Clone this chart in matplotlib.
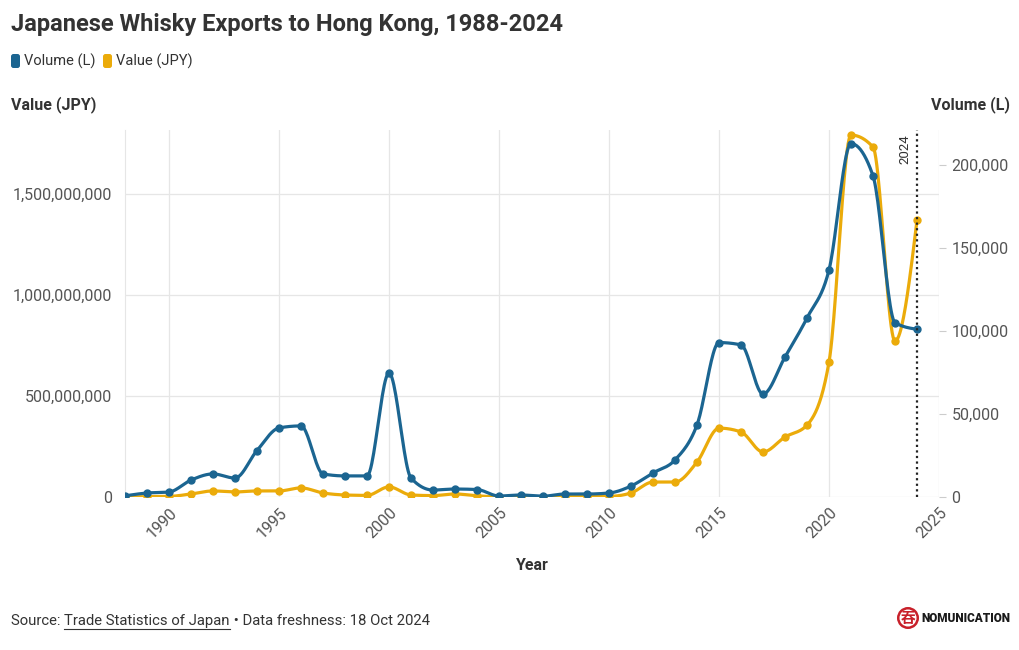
import numpy as np
import matplotlib
matplotlib.use("Agg")
import matplotlib.pyplot as plt
from matplotlib.patches import FancyBboxPatch
from matplotlib.lines import Line2D
from matplotlib.transforms import IdentityTransform
from matplotlib.ticker import FuncFormatter

plt.rcParams['font.family'] = ['Roboto', 'DejaVu Sans']

years = list(range(1988, 2025))
volume_l = [700, 2400, 3000, 10200, 13900, 11400, 28000, 41600, 42800, 13900,
            12700, 12700, 74700, 11400, 4200, 4800, 4500, 600, 1200, 500,
            1800, 1800, 2400, 6600, 14500, 22300, 43400, 93000, 91600, 62000,
            84300, 107800, 136700, 212800, 193400, 105000, 101000]
value_jpy = [0, 2e6, 3e6, 15e6, 30e6, 25e6, 30e6, 30e6, 45e6, 20e6,
             10e6, 8e6, 50e6, 10e6, 7e6, 15e6, 6e6, 0, 2e6, 1e6,
             2e6, 2e6, 3e6, 20e6, 74e6, 74e6, 173e6, 341e6, 322e6, 223e6,
             297e6, 356e6, 668e6, 1792e6, 1733e6, 772e6, 1371e6]

BLUE = '#1b6591'
YELLOW = '#ebab0a'
TXT = '#333333'
TICK = '#555555'
GRID = '#e6e6e6'


def monotone(x, y, n=24):
    # monotone cubic (like d3 curveMonotoneX)
    x = np.asarray(x, float)
    y = np.asarray(y, float)
    h = np.diff(x)
    s = np.diff(y) / h
    m = np.zeros_like(y)
    for i in range(1, len(y) - 1):
        p = (s[i - 1] * h[i] + s[i] * h[i - 1]) / (h[i - 1] + h[i])
        m[i] = (np.sign(s[i - 1]) + np.sign(s[i])) * min(abs(s[i - 1]), abs(s[i]), 0.5 * abs(p))
    m[0] = (3 * s[0] - m[1]) / 2
    m[-1] = (3 * s[-1] - m[-2]) / 2
    xs, ys = [], []
    t = np.linspace(0, 1, n)
    for i in range(len(y) - 1):
        h00 = 2 * t**3 - 3 * t**2 + 1
        h10 = t**3 - 2 * t**2 + t
        h01 = -2 * t**3 + 3 * t**2
        h11 = t**3 - t**2
        xs.append(x[i] + t * h[i])
        ys.append(h00 * y[i] + h10 * h[i] * m[i] + h01 * y[i + 1] + h11 * h[i] * m[i + 1])
    return np.concatenate(xs), np.concatenate(ys)


fig = plt.figure(figsize=(10.2, 6.5), dpi=100)
ax = fig.add_axes([125 / 1020, 1 - 497 / 650, (939 - 125) / 1020, (497 - 130) / 650])
ax2 = ax.twinx()

ax.set_xlim(1988, 2025)
ax.set_ylim(0, 1.817e9)
ax2.set_ylim(0, 221000)

xv, yv = monotone(years, value_jpy)
ax.plot(xv, yv, color=YELLOW, lw=2.3, zorder=3)
ax.plot(years, value_jpy, 'o', color=YELLOW, ms=5, zorder=4)

xb, yb = monotone(years, volume_l)
ax2.plot(xb, yb, color=BLUE, lw=2.3, zorder=3)
ax2.plot(years, volume_l, 'o', color=BLUE, ms=5, zorder=4)

ax2.axvline(2024, color='#222222', ls=(0, (1, 1.5)), lw=1.6, zorder=5)
ax2.text(2023.45, 218500, '2024', rotation=90, ha='center', va='top',
         fontsize=9.5, color=TXT)

ax.set_xticks(range(1990, 2026, 5))
ax.set_yticks([0, 5e8, 1e9, 1.5e9])
ax2.set_yticks(range(0, 200001, 50000))
fmt = FuncFormatter(lambda v, p: f'{v:,.0f}')
ax.yaxis.set_major_formatter(fmt)
ax2.yaxis.set_major_formatter(fmt)

ax.grid(True, color=GRID, lw=0.9)
ax.set_axisbelow(True)
for a in (ax, ax2):
    for sp in a.spines.values():
        sp.set_visible(False)
ax.spines['left'].set_visible(True)
ax.spines['left'].set_color(GRID)

ax.tick_params(axis='y', length=0, pad=9, labelsize=11.5, labelcolor=TICK)
ax2.tick_params(axis='y', length=5, color='#cccccc', pad=4, labelsize=11.5, labelcolor=TICK)
ax.tick_params(axis='x', length=0, pad=6, labelsize=11.5, labelcolor=TICK)
for lbl in ax.get_xticklabels():
    lbl.set_rotation(45)
    lbl.set_ha('right')
    lbl.set_va('top')
    lbl.set_rotation_mode('anchor')

fig.text(11 / 1020, 1 - 24 / 650, 'Japanese Whisky Exports to Hong Kong, 1988-2024',
         fontsize=17, fontweight='bold', color=TXT, va='center', ha='left')

# legend
for x0, c in [(11, BLUE), (103, YELLOW)]:
    fig.add_artist(FancyBboxPatch((x0, 650 - 68), 9, 14, boxstyle='round,pad=0,rounding_size=2.5',
                                  fc=c, ec='none', transform=IdentityTransform()))
fig.text(24 / 1020, 1 - 61 / 650, 'Volume (L)', fontsize=10.5, color=TXT, va='center')
fig.text(116 / 1020, 1 - 61 / 650, 'Value (JPY)', fontsize=10.5, color=TXT, va='center')

fig.text(11 / 1020, 1 - 105 / 650, 'Value (JPY)', fontsize=11.5, fontweight='bold', color=TXT, va='center')
fig.text(1010 / 1020, 1 - 105 / 650, 'Volume (L)', fontsize=11.5, fontweight='bold', color=TXT,
         va='center', ha='right')
fig.text(532 / 1020, 1 - 566 / 650, 'Year', fontsize=11.5, fontweight='bold', color=TXT,
         va='center', ha='center')

# source line
t1 = fig.text(11 / 1020, 1 - 621 / 650, 'Source: ', fontsize=10.7, color=TXT, va='center')
t2 = fig.text(0, 0, 'Trade Statistics of Japan', fontsize=10.7, color=TXT, va='center')
fig.canvas.draw()
r = fig.canvas.get_renderer()
b1 = t1.get_window_extent(r)
t2.set_position((b1.x1 / 1020, 1 - 621 / 650))
fig.canvas.draw()
b2 = t2.get_window_extent(r)
fig.text(b2.x1 / 1020, 1 - 621 / 650, ' \u2022 Data freshness: 18 Oct 2024', fontsize=10.7,
         color=TXT, va='center')
fig.add_artist(Line2D([b2.x0, b2.x1], [b2.y0 - 1, b2.y0 - 1], color=TXT, lw=0.8,
                      transform=IdentityTransform()))

# logo
fig.text(908 / 1020, 1 - 618 / 650, '\u541e', family=['Noto Sans CJK JP', 'DejaVu Sans'],
         fontsize=10.5, color='#c8202a', ha='center', va='center', fontweight='bold',
         bbox=dict(boxstyle='circle,pad=0.12', fc='white', ec='#c8202a', lw=1.8))
fig.text(921 / 1020, 1 - 618 / 650, 'NOMUNICATION', fontsize=8.5, fontweight='heavy',
         color='#1a1a1a', va='center', ha='left')

fig.savefig('out.png', dpi=100)
